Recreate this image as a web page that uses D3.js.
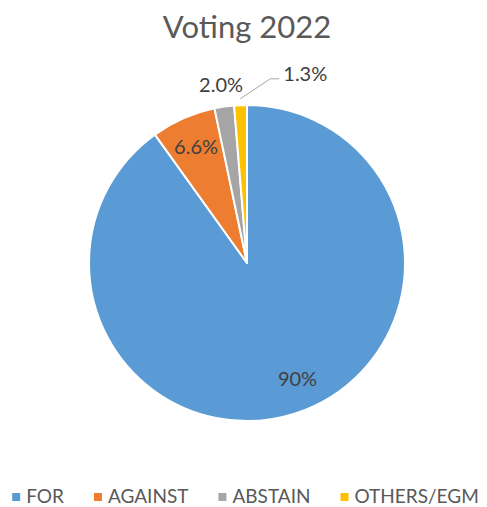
<!DOCTYPE html>
<html>
<head>
<meta charset="utf-8">
<script src="https://cdn.jsdelivr.net/npm/d3@7"></script>
<style>
  body { margin: 0; background: #fff; }
  text { font-family: Lato, "Open Sans", sans-serif; }
</style>
</head>
<body>
<div id="chart"></div>
<script>
// data
var categories = ["FOR", "AGAINST", "ABSTAIN", "OTHERS/EGM"];
var values = [90.1, 6.6, 2.0, 1.3];
var labels = ["90%", "6.6%", "2.0%", "1.3%"];
var colors = ["#5B9BD5", "#ED7D31", "#A5A5A5", "#FFC000"];

var width = 487, height = 507;
var cx = 247, cy = 263, radius = 158;

var svg = d3.select("#chart").append("svg")
    .attr("width", width)
    .attr("height", height);

svg.append("text")
    .attr("x", cx)
    .attr("y", 38)
    .attr("text-anchor", "middle")
    .attr("font-size", 31)
    .attr("fill", "#595959")
    .text("Voting 2022");

var pie = d3.pie().sort(null).value(function(d) { return d; });
var arcs = pie(values);

var arc = d3.arc().innerRadius(0).outerRadius(radius);
var inside_arc = d3.arc().innerRadius(radius * 0.8).outerRadius(radius * 0.8);
var outside_arc = d3.arc().innerRadius(radius * 1.14).outerRadius(radius * 1.14);
var leader_arc = d3.arc().innerRadius(radius * 1.04).outerRadius(radius * 1.04);

var g = svg.append("g").attr("transform", "translate(" + cx + "," + cy + ")");

g.selectAll("path.slice")
    .data(arcs)
  .enter().append("path")
    .attr("class", "slice")
    .attr("d", arc)
    .attr("fill", function(d, i) { return colors[i]; })
    .attr("stroke", "#fff")
    .attr("stroke-width", 2)
    .attr("stroke-linejoin", "round");

// label placement: 0 = inside, 1 = outside, 2 = outside with leader line
var placement = [0, 0, 1, 2];
// small angular nudge (radians) for the big slice label, like Excel's best fit
var nudge = [-0.1, 0, 0, 0];
var label_size = 20;

arcs.forEach(function(d, i) {
  var p;
  var a = { startAngle: d.startAngle + nudge[i], endAngle: d.endAngle + nudge[i] };
  if (placement[i] == 0) {
    p = inside_arc.centroid(a);
    g.append("text")
        .attr("x", p[0]).attr("y", p[1])
        .attr("dy", "0.35em")
        .attr("text-anchor", "middle")
        .attr("font-size", label_size)
        .attr("fill", "#404040")
        .text(labels[i]);
  } else if (placement[i] == 1) {
    p = outside_arc.centroid(a);
    g.append("text")
        .attr("x", p[0]).attr("y", p[1])
        .attr("dy", "0.35em")
        .attr("text-anchor", "middle")
        .attr("font-size", label_size)
        .attr("fill", "#404040")
        .text(labels[i]);
  } else {
    var s = leader_arc.centroid(a);
    var elbow = [s[0] + 30, s[1] - 20];
    var end = [elbow[0] + 9, elbow[1]];
    g.append("polyline")
        .attr("points", [s, elbow, end].map(function(q) { return q.join(","); }).join(" "))
        .attr("fill", "none")
        .attr("stroke", "#A5A5A5")
        .attr("stroke-width", 1);
    g.append("text")
        .attr("x", end[0] + 4).attr("y", end[1])
        .attr("dy", "0.1em")
        .attr("text-anchor", "start")
        .attr("font-size", label_size)
        .attr("fill", "#404040")
        .text(labels[i]);
  }
});

// legend
var legend = svg.append("g");
var gap = 30;
var x = 0;
categories.forEach(function(c, i) {
  var item = legend.append("g").attr("transform", "translate(" + x + ",0)");
  item.append("rect")
      .attr("x", 0).attr("y", -10)
      .attr("width", 8).attr("height", 8)
      .attr("fill", colors[i]);
  var t = item.append("text")
      .attr("x", 14).attr("y", 0)
      .attr("font-size", 19)
      .attr("fill", "#595959")
      .text(c);
  x += 14 + t.node().getComputedTextLength() + gap;
});
var legend_width = x - gap;
legend.attr("transform", "translate(" + ((width - legend_width) / 2 + 2) + ",503)");
</script>
</body>
</html>
